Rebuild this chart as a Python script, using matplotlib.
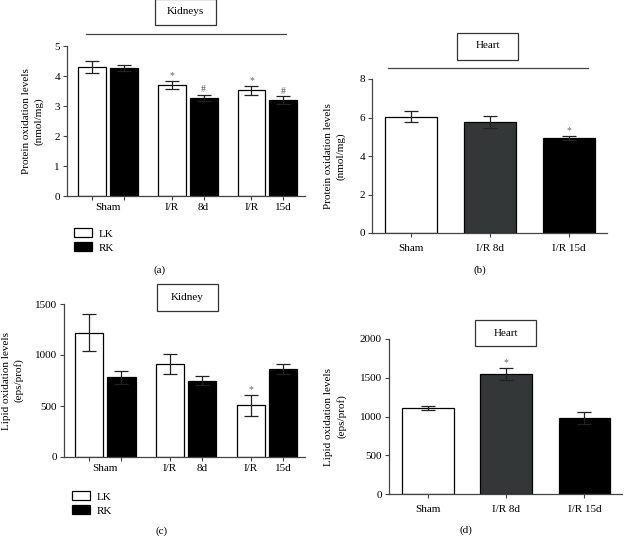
import numpy as np
import matplotlib.pyplot as plt
from matplotlib.patches import Rectangle
from matplotlib.lines import Line2D

plt.rcParams['font.family'] = ['Liberation Serif', 'DejaVu Serif']
plt.rcParams['font.size'] = 8

W, H = 625, 536

# ---- data ----
kidneyGroups = ['Sham', 'I/R 8d', 'I/R 15d']
protLK = [4.30, 3.70, 3.52]
protLKErr = [0.20, 0.12, 0.14]
protRK = [4.28, 3.28, 3.20]
protRKErr = [0.10, 0.10, 0.12]
protLKMark = ['', '*', '*']
protRKMark = ['', '#', '#']

heartGroups = ['Sham', 'I/R 8d', 'I/R 15d']
protHeart = [6.05, 5.78, 4.93]
protHeartErr = [0.30, 0.32, 0.12]
protHeartMark = ['', '', '*']

lipLK = [1220, 910, 505]
lipLKErr = [185, 100, 100]
lipRK = [780, 750, 862]
lipRKErr = [65, 45, 45]
lipLKMark = ['', '', '*']
lipRKMark = ['', '', '']

lipHeart = [1110, 1545, 980]
lipHeartErr = [30, 80, 75]
lipHeartMark = ['', '*', '']

heartColors = ['white', '#333737', 'black']


def axRect(left, right, top, bottom):
    return [left / W, 1 - bottom / H, (right - left) / W, (bottom - top) / H]


def styleAxes(ax):
    for side in ['top', 'right']:
        ax.spines[side].set_visible(False)
    for side in ['left', 'bottom']:
        ax.spines[side].set_color('#444444')
        ax.spines[side].set_linewidth(0.9)
    ax.tick_params(direction='out', length=3, width=0.8, color='#444444', labelsize=8, pad=2)


def kidneyPanel(ax, lk, lkErr, rk, rkErr, lkMark, rkMark, ymax, ystep, ylabel, markOff, pad):
    x = np.arange(len(kidneyGroups))
    off, wd = 0.2, 0.35
    ekw = dict(elinewidth=0.9, capthick=0.9)
    ax.bar(x - off, lk, wd, yerr=lkErr, color='white', edgecolor='black', linewidth=0.9,
           capsize=5, error_kw=ekw, ecolor='#222222')
    ax.bar(x + off, rk, wd, yerr=rkErr, color='black', edgecolor='black', linewidth=0.9,
           capsize=5, error_kw=ekw, ecolor='#222222')
    for i in range(len(x)):
        if lkMark[i]:
            ax.text(x[i] - off, lk[i] + lkErr[i] + markOff, lkMark[i], ha='center', va='bottom',
                    fontsize=7, color='#666666')
        if rkMark[i]:
            ax.text(x[i] + off, rk[i] + rkErr[i] + markOff, rkMark[i], ha='center', va='bottom',
                    fontsize=7, color='#555555')
    ticks = []
    labels = []
    for i, g in enumerate(kidneyGroups):
        ticks += [x[i] - off, x[i] + off]
        if g == 'Sham':
            labels += ['', '']
        else:
            a, b = g.split(' ')
            labels += [a, b]
    ax.set_xticks(ticks)
    ax.set_xticklabels(labels)
    ax.set_xticks([x[0]], minor=True)
    ax.set_xticklabels(['Sham'], minor=True)
    ax.tick_params(axis='x', which='minor', length=0, labelsize=8, pad=5)
    ax.set_xlim(-0.51, 2.47)
    ax.set_ylim(0, ymax)
    ax.set_yticks(np.arange(0, ymax + 1, ystep))
    ax.set_ylabel(ylabel, fontsize=8, labelpad=pad, linespacing=1.4)


def heartPanel(ax, vals, errs, marks, ymax, ystep, ylabel, markOff, pad):
    x = np.arange(len(heartGroups))
    ax.bar(x, vals, 0.66, yerr=errs, color=heartColors, edgecolor='black', linewidth=0.9,
           capsize=5, error_kw=dict(elinewidth=0.9, capthick=0.9), ecolor='#222222')
    for i in range(len(x)):
        if marks[i]:
            ax.text(x[i], vals[i] + errs[i] + markOff, marks[i], ha='center', va='bottom',
                    fontsize=7, color='#666666')
    ax.set_xticks(x)
    ax.set_xticklabels(heartGroups)
    ax.tick_params(axis='x', pad=5)
    ax.set_xlim(-0.5, 2.48)
    ax.set_ylim(0, ymax)
    ax.set_yticks(np.arange(0, ymax + 1, ystep))
    ax.set_ylabel(ylabel, fontsize=8, labelpad=pad, linespacing=1.4)


def titleBox(fig, cx, cy, w, h, text):
    fig.patches.append(Rectangle(((cx - w / 2) / W, 1 - (cy + h / 2) / H), w / W, h / H,
                                 transform=fig.transFigure, facecolor='white',
                                 edgecolor='#333333', linewidth=0.9))
    fig.text(cx / W, 1 - cy / H, text, ha='center', va='center', fontsize=8)


def hLine(fig, x0, x1, y):
    fig.lines.append(Line2D([x0 / W, x1 / W], [1 - y / H, 1 - y / H], transform=fig.transFigure,
                            color='#444444', linewidth=0.9))


def kidneyLegend(ax, x, y):
    ax.legend(handles=[Rectangle((0, 0), 1, 1, facecolor='white', edgecolor='black', linewidth=0.9),
                       Rectangle((0, 0), 1, 1, facecolor='black', edgecolor='black', linewidth=0.9)],
              labels=['LK', 'RK'], loc='upper left', bbox_to_anchor=(x / W, 1 - y / H),
              bbox_transform=fig.transFigure, frameon=False, fontsize=8, handlelength=1.6,
              handleheight=0.8, labelspacing=0.35, handletextpad=0.6, borderaxespad=0)


fig = plt.figure(figsize=(6.25, 5.36), dpi=100)

# (a)
axA = fig.add_axes(axRect(67, 305, 46, 196))
styleAxes(axA)
kidneyPanel(axA, protLK, protLKErr, protRK, protRKErr, protLKMark, protRKMark, 5, 1,
            'Protein oxidation levels\n(nmol/mg)', 0.03, 8)
titleBox(fig, 185.5, 12, 61, 25, 'Kidneys')
hLine(fig, 86, 286, 34)
kidneyLegend(axA, 70, 224)
fig.text(160 / W, 1 - 270 / H, '(a)', ha='center', va='center', fontsize=8)

# (b)
axB = fig.add_axes(axRect(372, 607, 79, 233))
styleAxes(axB)
heartPanel(axB, protHeart, protHeartErr, protHeartMark, 8, 2,
           'Protein oxidation levels\n(nmol/mg)', 0.05, 10)
titleBox(fig, 487.5, 46, 61, 27, 'Heart')
hLine(fig, 388, 588, 68)
fig.text(480 / W, 1 - 270 / H, '(b)', ha='center', va='center', fontsize=8)

# (c)
axC = fig.add_axes(axRect(64, 305, 304, 457))
styleAxes(axC)
kidneyPanel(axC, lipLK, lipLKErr, lipRK, lipRKErr, lipLKMark, lipRKMark, 1500, 500,
            'Lipid oxidation levels\n(eps/prof)', 8, 8)
titleBox(fig, 187, 297, 61, 27, 'Kidney')
kidneyLegend(axC, 68, 487)
fig.text(162 / W, 1 - 531 / H, '(c)', ha='center', va='center', fontsize=8)

# (d)
axD = fig.add_axes(axRect(389, 622, 339, 494))
styleAxes(axD)
heartPanel(axD, lipHeart, lipHeartErr, lipHeartMark, 2000, 500,
           'Lipid oxidation levels\n(eps/prof)', 10, 10)
titleBox(fig, 505.5, 333, 61, 26, 'Heart')
fig.text(466 / W, 1 - 530 / H, '(d)', ha='center', va='center', fontsize=8)

fig.savefig('out.png', dpi=100)
